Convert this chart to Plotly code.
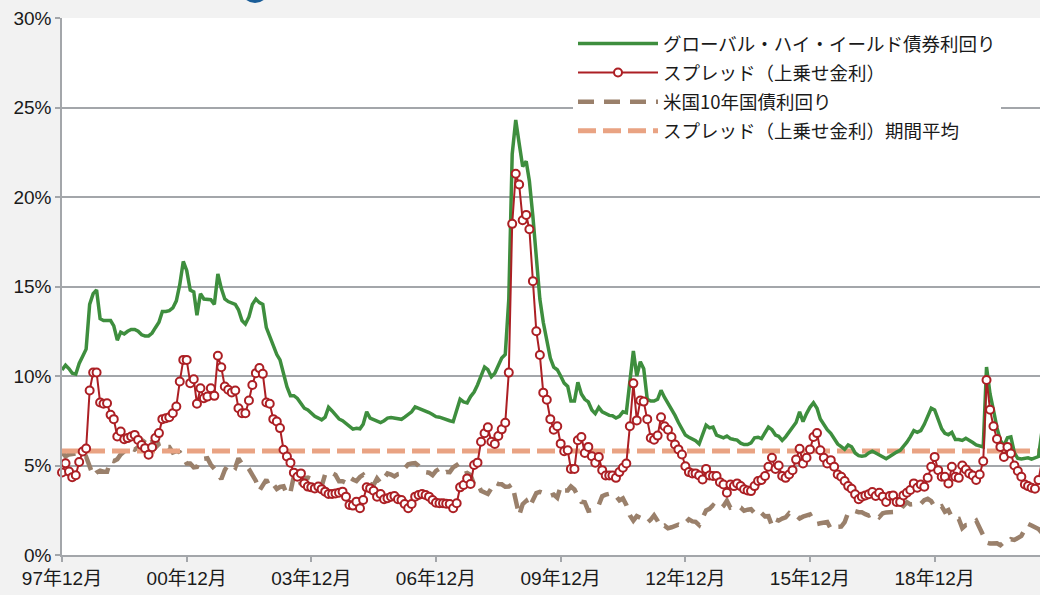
import pandas as pd
import plotly.graph_objects as go

# Monthly data, Dec 1997 .. Jul 2021
months = pd.date_range("1997-12-01", periods=284, freq="MS")

hy_yield = [
    10.34, 10.6, 10.4, 10.15, 10.1, 10.7, 11.1, 11.5, 14.0, 14.6,
    14.8, 13.2, 13.1, 13.1, 13.1, 12.8, 12.0, 12.45, 12.35, 12.5,
    12.6, 12.6, 12.5, 12.3, 12.24, 12.24, 12.4, 12.7, 13.0, 13.6,
    13.6, 13.65, 13.8, 14.2, 15.1, 16.4, 15.9, 14.8, 14.7, 13.4,
    14.6, 14.3, 14.3, 14.26, 14.0, 15.7, 14.9, 14.3, 14.16, 14.1,
    14.0, 13.7, 13.1, 12.9, 13.3, 14.0, 14.3, 14.1, 14.0, 12.7,
    12.2, 11.8, 11.2, 10.9, 10.2, 9.4, 8.9, 8.9, 8.75, 8.45,
    8.2, 8.1, 7.9, 7.75, 7.65, 7.55, 7.7, 8.25, 8.05, 7.8,
    7.6, 7.5, 7.35, 7.15, 7.03, 7.08, 7.05, 7.3, 8.0, 7.65,
    7.55, 7.45, 7.4, 7.5, 7.65, 7.68, 7.65, 7.62, 7.58, 7.7,
    7.85, 8.0, 8.28, 8.2, 8.15, 8.05, 7.96, 7.85, 7.73, 7.7,
    7.62, 7.55, 7.5, 7.45, 8.1, 8.7, 8.55, 8.5, 8.85, 9.1,
    9.5, 10.0, 10.5, 10.35, 9.96, 10.15, 10.6, 11.0, 11.2, 14.3,
    22.4, 24.3, 23.0, 21.7, 22.0, 20.9, 18.9, 16.5, 14.3, 13.0,
    12.0, 11.0, 10.5, 10.35, 10.0, 9.6, 9.42, 8.6, 8.6, 9.65,
    9.0, 8.7, 8.55, 8.1, 7.9, 8.25, 8.0, 7.9, 7.8, 7.78,
    7.65, 7.75, 8.0, 7.95, 9.8, 11.4, 10.0, 10.8, 10.4, 8.7,
    8.6, 8.6, 8.7, 9.2, 8.8, 8.5, 8.2, 7.8, 7.4, 7.04,
    6.7, 6.58, 6.5, 6.38, 6.2, 6.75, 7.25, 7.1, 7.15, 6.7,
    6.6, 6.55, 6.65, 6.5, 6.45, 6.42, 6.25, 6.17, 6.17, 6.26,
    6.55, 6.58, 6.5, 6.8, 7.15, 7.0, 6.7, 6.63, 6.4, 6.6,
    6.85, 7.1, 7.4, 8.0, 7.45, 7.9, 8.25, 8.5, 8.2, 7.6,
    7.25, 7.0, 6.8, 6.5, 6.2, 6.05, 5.9, 6.15, 6.05, 5.7,
    5.55, 5.52, 5.55, 5.7, 5.8, 5.7, 5.6, 5.5, 5.38, 5.5,
    5.65, 5.75, 5.85, 6.05, 6.3, 6.6, 6.95, 6.85, 6.95, 7.3,
    7.8, 8.2, 8.1, 7.5, 7.05, 6.8, 6.72, 6.85, 6.45, 6.45,
    6.4, 6.52, 6.42, 6.28, 6.15, 6.07, 6.04, 10.5, 9.0, 8.1,
    7.1, 6.4, 6.1, 6.55, 6.6, 5.7, 5.4, 5.37, 5.4, 5.43,
    5.35, 5.4, 5.5, 6.9,
]

spread = [
    4.61, 5.13, 4.66, 4.35, 4.46, 5.2, 5.78, 5.95, 9.19, 10.2,
    10.2, 8.52, 8.45, 8.48, 7.83, 7.59, 6.62, 6.9, 6.47, 6.53,
    6.62, 6.71, 6.43, 6.15, 5.97, 5.6, 6.02, 6.53, 6.81, 7.59,
    7.64, 7.7, 7.92, 8.3, 9.69, 10.9, 10.9, 9.6, 9.82, 8.45,
    9.32, 8.76, 8.85, 9.32, 8.89, 11.13, 10.49, 9.41, 9.23, 9.08,
    9.19, 8.2, 7.92, 7.92, 8.63, 9.5, 10.16, 10.44, 10.12, 8.52,
    8.45, 7.59, 7.46, 7.09, 5.88, 5.5, 5.16, 4.6, 4.37, 4.56,
    4.0, 3.82, 3.78, 3.72, 3.82, 3.68, 3.54, 3.41, 3.41, 3.44,
    3.48, 3.54, 3.26, 2.79, 2.76, 2.98, 2.61, 3.07, 3.78, 3.72,
    3.59, 3.26, 3.41, 3.11, 3.17, 3.25, 3.3, 3.11, 3.07, 2.85,
    2.61, 2.85, 3.26, 3.35, 3.41, 3.35, 3.26, 3.07, 2.92, 2.89,
    2.89, 2.87, 2.85, 2.61, 2.89, 3.78, 3.91, 4.28, 3.97, 5.03,
    5.16, 6.33, 6.8, 7.13, 6.33, 6.2, 6.65, 7.02, 7.39, 10.19,
    18.5, 21.3, 20.7, 18.7, 19.0, 18.2, 15.3, 12.5, 11.17, 9.07,
    8.67, 7.59, 7.0, 7.19, 6.22, 5.8, 5.85, 4.81, 4.81, 6.41,
    6.59, 5.7, 6.04, 5.52, 5.15, 5.48, 4.74, 4.44, 4.44, 4.44,
    4.31, 4.63, 4.87, 5.11, 7.19, 9.59, 7.52, 8.63, 8.57, 7.59,
    6.54, 6.44, 6.67, 7.7, 7.19, 7.0, 6.59, 6.17, 5.9, 5.61,
    4.96, 4.63, 4.56, 4.56, 4.44, 4.22, 4.81, 4.44, 4.41, 4.41,
    4.07, 3.94, 3.48, 3.94, 3.85, 4.0, 3.85, 3.67, 3.6, 3.57,
    3.85, 4.13, 4.19, 4.41, 4.93, 5.43, 4.81, 5.0, 4.41, 4.31,
    4.5, 4.74, 5.33, 5.93, 5.11, 5.43, 5.9, 6.59, 6.81, 5.85,
    5.43, 5.11, 5.3, 4.93, 4.5, 4.37, 4.13, 3.85, 3.7, 3.39,
    3.11, 3.26, 3.33, 3.39, 3.52, 3.3, 3.48, 3.26, 2.96, 3.3,
    3.33, 2.96, 2.96, 3.33, 3.48, 3.63, 4.0, 3.76, 3.94, 3.81,
    4.31, 4.93, 5.48, 4.74, 4.37, 4.37, 4.0, 4.93, 4.37, 4.31,
    5.0, 4.78, 4.56, 4.44, 4.19, 4.5, 5.24, 9.78, 8.11, 7.19,
    6.48, 6.04, 5.48, 6.04, 5.67, 5.0, 4.69, 4.37, 3.94, 3.85,
    3.76, 3.7, 4.19, 5.24,
]

ust10y = [
    5.74,
    5.51, 5.62, 5.65, 5.67, 5.55, 5.45, 5.49, 4.98, 4.42, 4.61, 4.71, 4.65,
    4.65, 5.29, 5.24, 5.35, 5.62, 5.78, 5.90, 5.97, 5.88, 6.02, 6.19, 6.44,
    6.67, 6.41, 6.00, 6.21, 6.27, 6.03, 6.03, 5.73, 5.80, 5.75, 5.47, 5.11,
    5.11, 4.90, 4.92, 5.34, 5.38, 5.41, 5.05, 4.83, 4.59, 4.23, 4.75, 5.05,
    5.03, 4.88, 5.40, 5.08, 5.04, 4.80, 4.46, 4.14, 3.59, 3.89, 4.21, 3.81,
    3.96, 3.69, 3.80, 3.84, 3.37, 3.51, 4.41, 4.46, 3.94, 4.29, 4.33, 4.25,
    4.13, 3.97, 3.84, 4.51, 4.65, 4.58, 4.48, 4.12, 4.12, 4.03, 4.35, 4.22,
    4.13, 4.36, 4.48, 4.20, 3.98, 3.91, 4.28, 4.02, 4.33, 4.56, 4.49, 4.39,
    4.52, 4.55, 4.85, 5.07, 5.12, 5.14, 4.98, 4.73, 4.63, 4.60, 4.46, 4.70,
    4.82, 4.56, 4.64, 4.63, 4.89, 5.02, 4.76, 4.53, 4.58, 4.47, 3.94, 4.02,
    3.59, 3.51, 3.41, 3.73, 4.06, 3.97, 3.95, 3.81, 3.82, 3.95, 2.92, 2.21,
    2.84, 3.02, 2.67, 3.12, 3.46, 3.53, 3.48, 3.39, 3.31, 3.38, 3.20, 3.84,
    3.61, 3.61, 3.83, 3.66, 3.29, 2.97, 2.94, 2.47, 2.51, 2.60, 2.80, 3.29,
    3.37, 3.42, 3.46, 3.29, 3.05, 3.16, 2.80, 2.22, 1.92, 2.17, 2.08, 1.88,
    1.80, 1.98, 2.21, 1.91, 1.56, 1.64, 1.49, 1.55, 1.63, 1.69, 1.61, 1.76,
    1.99, 1.88, 1.85, 1.67, 2.13, 2.49, 2.58, 2.78, 2.61, 2.55, 2.74, 3.03,
    2.64, 2.65, 2.72, 2.65, 2.47, 2.53, 2.56, 2.34, 2.49, 2.34, 2.16, 2.17,
    1.64, 1.99, 1.92, 2.03, 2.10, 2.33, 2.18, 2.21, 2.04, 2.14, 2.21, 2.27,
    1.92, 1.73, 1.77, 1.83, 1.84, 1.47, 1.45, 1.58, 1.59, 1.83, 2.37, 2.44,
    2.45, 2.39, 2.39, 2.28, 2.20, 2.30, 2.29, 2.12, 2.33, 2.38, 2.41, 2.40,
    2.72, 2.86, 2.74, 2.95, 2.83, 2.85, 2.96, 2.86, 3.06, 3.14, 3.01, 2.69,
    2.63, 2.72, 2.41, 2.51, 2.13, 2.00, 2.02, 1.50, 1.67, 1.69, 1.78, 1.92,
    1.51, 1.15, 0.70, 0.64, 0.65, 0.66, 0.55, 0.72, 0.69, 0.88, 0.84, 0.93,
    1.07, 1.44, 1.74, 1.65, 1.58, 1.45, 1.24,
]

spread_avg = 5.81

tick_dates = ["1997-12-01", "2000-12-01", "2003-12-01", "2006-12-01",
              "2009-12-01", "2012-12-01", "2015-12-01", "2018-12-01"]
tick_labels = ["97年12月", "00年12月", "03年12月", "06年12月",
               "09年12月", "12年12月", "15年12月", "18年12月"]

names = ["グローバル・ハイ・イールド債券利回り", "スプレッド（上乗せ金利）",
         "米国10年国債利回り", "スプレッド（上乗せ金利）期間平均"]

GREEN = "#3e8e3e"
RED = "#ac1f24"
BROWN = "#9a806b"
ORANGE = "#e9a383"
GRID = "#a3a6aa"
AXFONT = "Liberation Sans Narrow, Arial Narrow, Liberation Sans, Noto Sans CJK JP, sans-serif"

fig = go.Figure()
fig.add_trace(go.Scatter(x=months, y=ust10y, mode="lines", name=names[2],
                         line=dict(color=BROWN, width=4.5, dash="16px,10px"),
                         legendrank=3, legendgroup="c"))
fig.add_trace(go.Scatter(x=months, y=[spread_avg] * len(months), mode="lines", name=names[3],
                         line=dict(color=ORANGE, width=5, dash="18px,7px"),
                         legendrank=4, legendgroup="d"))
fig.add_trace(go.Scatter(x=months, y=hy_yield, mode="lines", name=names[0],
                         line=dict(color=GREEN, width=3.5),
                         legendrank=1, legendgroup="a"))
fig.add_trace(go.Scatter(x=months, y=spread, mode="lines+markers", name=names[1],
                         line=dict(color=RED, width=2),
                         marker=dict(symbol="circle", size=8, color="white",
                                     line=dict(color=RED, width=2)),
                         cliponaxis=False, legendrank=2, legendgroup="b"))

# plot area pixel geometry
L, R_, T, B = 62, 1040, 18, 555
def px_x(p):
    return (p - L) / (R_ - L)
def px_y(p):
    return (B - p) / (B - T)

fig.add_shape(type="circle", xref="paper", yref="paper",
              x0=px_x(241), x1=px_x(269), y0=px_y(3), y1=px_y(-25),
              fillcolor="#1a5d98", line=dict(width=0), layer="above")

fig.update_layout(
    width=1040, height=595,
    margin=dict(l=62, r=0, t=18, b=40, pad=0),
    paper_bgcolor="#f2f2f2",
    plot_bgcolor="white",
    showlegend=True,
    legend=dict(
        x=px_x(573), y=px_y(25), xanchor="left", yanchor="top",
        bgcolor="white", borderwidth=0,
        font=dict(family="Noto Sans CJK JP, sans-serif", size=18.5, color="#1a1a1a"),
        itemwidth=80, tracegroupgap=2,
    ),
    xaxis=dict(
        type="date",
        range=["1997-12-01", "2021-06-14"],
        tickvals=tick_dates, ticktext=tick_labels,
        showgrid=False, showline=True, linecolor=GRID, linewidth=1.5,
        ticks="outside", ticklen=5, tickcolor=GRID, tickwidth=1.5,
        tickfont=dict(family=AXFONT, size=19, color="#1a1a1a"),
        zeroline=False,
    ),
    yaxis=dict(
        range=[0, 30], dtick=5, ticksuffix="%",
        showgrid=True, gridcolor=GRID, gridwidth=1.5,
        showline=True, linecolor=GRID, linewidth=1.5,
        ticks="outside", ticklen=5, tickcolor=GRID, tickwidth=1.5,
        tickfont=dict(family=AXFONT, size=19, color="#1a1a1a"),
        zeroline=False,
    ),
)

fig.write_html("out.html", config={"displayModeBar": False},
               post_script="document.body.style.margin='0';document.body.style.overflow='hidden';")
